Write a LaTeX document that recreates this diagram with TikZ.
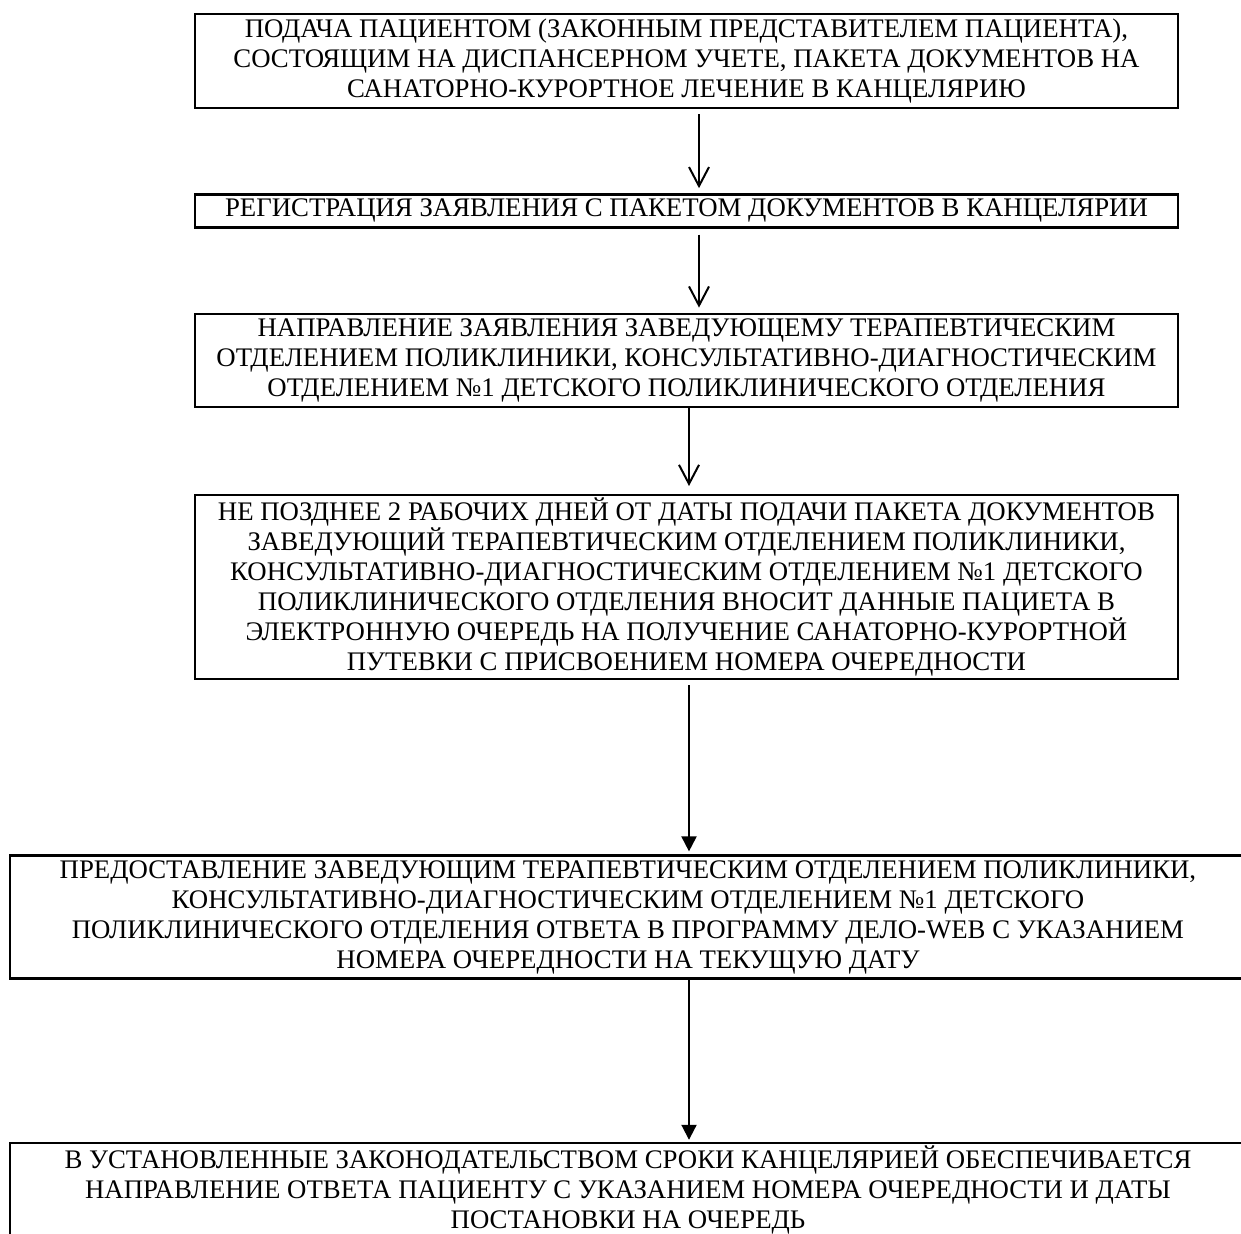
\documentclass[tikz,border=0pt]{standalone}
\usepackage{fontspec}
\setmainfont{Liberation Serif}
\usetikzlibrary{positioning, arrows.meta}

\begin{document}
\begin{tikzpicture} [ x=0.5pt, y=-0.5pt
                    , font=\fontsize{13.4}{15}\selectfont
                    , box/.style={draw, line width=1.2pt, align=center, inner sep=1pt, minimum width=491.5pt}
                    , wbox/.style={box, minimum width=618pt}
                    , openarr/.style={line width=1pt, -{Straight Barb[length=9.5pt, width=10pt]}}
                    , filarr/.style={line width=1pt, -{Triangle[length=7.5pt, width=7.5pt]}}
                    ]

  \useasboundingbox (0,0) rectangle (1241,1234);

  % --- Upper Stack -----------------------------------------------------------
  \node [ box
        , minimum height=47pt
        ]
        (Submit) at (686.5,61) {ПОДАЧА ПАЦИЕНТОМ (ЗАКОННЫМ ПРЕДСТАВИТЕЛЕМ ПАЦИЕНТА),\\
        СОСТОЯЩИМ НА ДИСПАНСЕРНОМ УЧЕТЕ, ПАКЕТА ДОКУМЕНТОВ НА\\
        САНАТОРНО-КУРОРТНОЕ ЛЕЧЕНИЕ В КАНЦЕЛЯРИЮ};

  \node [ box
        , minimum height=16.5pt
        , below=42pt of Submit
        ]
        (Register) {РЕГИСТРАЦИЯ ЗАЯВЛЕНИЯ С ПАКЕТОМ ДОКУМЕНТОВ В КАНЦЕЛЯРИИ};

  \node [ box
        , minimum height=46.5pt
        , below=42pt of Register
        ]
        (Forward) {НАПРАВЛЕНИЕ ЗАЯВЛЕНИЯ ЗАВЕДУЮЩЕМУ ТЕРАПЕВТИЧЕСКИМ\\
        ОТДЕЛЕНИЕМ ПОЛИКЛИНИКИ, КОНСУЛЬТАТИВНО-ДИАГНОСТИЧЕСКИМ\\
        ОТДЕЛЕНИЕМ №1 ДЕТСКОГО ПОЛИКЛИНИЧЕСКОГО ОТДЕЛЕНИЯ};

  \node [ box
        , minimum height=92pt
        , below=43pt of Forward
        ]
        (Queue) {НЕ ПОЗДНЕЕ 2 РАБОЧИХ ДНЕЙ ОТ ДАТЫ ПОДАЧИ ПАКЕТА ДОКУМЕНТОВ\\
        ЗАВЕДУЮЩИЙ ТЕРАПЕВТИЧЕСКИМ ОТДЕЛЕНИЕМ ПОЛИКЛИНИКИ,\\
        КОНСУЛЬТАТИВНО-ДИАГНОСТИЧЕСКИМ ОТДЕЛЕНИЕМ №1 ДЕТСКОГО\\
        ПОЛИКЛИНИЧЕСКОГО ОТДЕЛЕНИЯ ВНОСИТ ДАННЫЕ ПАЦИЕТА В\\
        ЭЛЕКТРОННУЮ ОЧЕРЕДЬ НА ПОЛУЧЕНИЕ САНАТОРНО-КУРОРТНОЙ\\
        ПУТЕВКИ С ПРИСВОЕНИЕМ НОМЕРА ОЧЕРЕДНОСТИ};
  % ---------------------------------------------------------------------------

  % --- Lower Stack -----------------------------------------------------------
  \node [ wbox
        , minimum height=61.5pt
        , below=87pt of Queue
        , xshift=-29.25pt
        ]
        (Reply) {ПРЕДОСТАВЛЕНИЕ ЗАВЕДУЮЩИМ ТЕРАПЕВТИЧЕСКИМ ОТДЕЛЕНИЕМ ПОЛИКЛИНИКИ,\\
        КОНСУЛЬТАТИВНО-ДИАГНОСТИЧЕСКИМ ОТДЕЛЕНИЕМ №1 ДЕТСКОГО\\
        ПОЛИКЛИНИЧЕСКОГО ОТДЕЛЕНИЯ ОТВЕТА В ПРОГРАММУ ДЕЛО-WEB С УКАЗАНИЕМ\\
        НОМЕРА ОЧЕРЕДНОСТИ НА ТЕКУЩУЮ ДАТУ};

  \node [ wbox
        , minimum height=47pt
        , below=81pt of Reply
        ]
        (Notify) {В УСТАНОВЛЕННЫЕ ЗАКОНОДАТЕЛЬСТВОМ СРОКИ КАНЦЕЛЯРИЕЙ ОБЕСПЕЧИВАЕТСЯ\\
        НАПРАВЛЕНИЕ ОТВЕТА ПАЦИЕНТУ С УКАЗАНИЕМ НОМЕРА ОЧЕРЕДНОСТИ И ДАТЫ\\
        ПОСТАНОВКИ НА ОЧЕРЕДЬ};
  % ---------------------------------------------------------------------------

  % --- Arrows ----------------------------------------------------------------
  \draw [openarr, shorten <=2.5pt, shorten >=2.5pt]
        ([xshift=6.25pt]Submit.south) -- ([xshift=6.25pt]Register.north);
  \draw [openarr, shorten <=3pt, shorten >=2.5pt]
        ([xshift=6.25pt]Register.south) -- ([xshift=6.25pt]Forward.north);
  \draw [openarr, shorten >=4pt]
        ([xshift=1.25pt]Forward.south) -- ([xshift=1.25pt]Queue.north);
  \draw [filarr, shorten <=2.5pt, shorten >=1.5pt]
        ([xshift=1.25pt]Queue.south) -- ([xshift=1.25pt]Queue.south |- Reply.north);
  \draw [filarr, shorten >=1pt]
        ([xshift=1.25pt]Queue.south |- Reply.south) -- ([xshift=1.25pt]Queue.south |- Notify.north);
  % ---------------------------------------------------------------------------
\end{tikzpicture}
\end{document}
